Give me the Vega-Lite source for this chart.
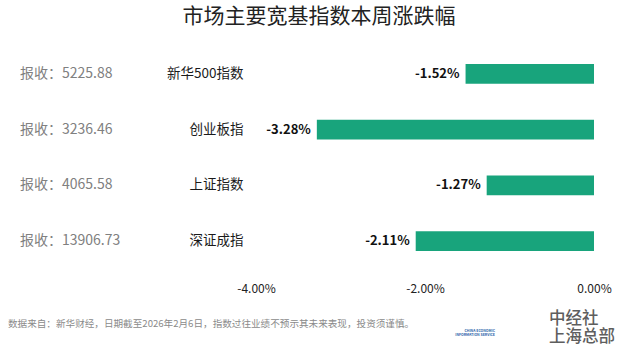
{
  "$schema": "https://vega.github.io/schema/vega-lite/v6.json",
  "padding": {"left": 8, "top": 6, "right": 8, "bottom": 5},
  "background": "white",
  "title": {
    "text": "市场主要宽基指数本周涨跌幅",
    "font": "Noto Sans CJK SC",
    "fontSize": 21,
    "fontWeight": "normal",
    "color": "#222222",
    "anchor": "middle",
    "offset": 19,
    "dx": 4
  },
  "config": {
    "view": {"stroke": null},
    "font": "Noto Sans CJK SC"
  },
  "datasets": {
    "idx": [
      {"name": "新华500指数", "change": -1.52, "close": 5225.88},
      {"name": "创业板指", "change": -3.28, "close": 3236.46},
      {"name": "上证指数", "change": -1.27, "close": 4065.58},
      {"name": "深证成指", "change": -2.11, "close": 13906.73}
    ],
    "note": [
      {"footer": "数据来自：新华财经，日期截至2026年2月6日，指数过往业绩不预示其未来表现，投资须谨慎。", "logo1": "中经社", "logo2": "上海总部", "logoEn1": "CHINA ECONOMIC", "logoEn2": "INFORMATION SERVICE"}
    ]
  },
  "spacing": 15,
  "vconcat": [
    {
      "bounds": "flush",
      "spacing": 224,
      "hconcat": [
        {
          "width": 24,
          "height": 223,
          "data": {"name": "idx"},
          "transform": [
            {"calculate": "'报收：' + format(datum.close, '.2f')", "as": "closeLabel"}
          ],
          "mark": {"type": "text", "align": "left", "baseline": "middle", "fontSize": 14, "color": "#808080"},
          "encoding": {
            "y": {
              "field": "name",
              "type": "nominal",
              "sort": null,
              "scale": {"paddingInner": 0.65, "paddingOuter": 0.325},
              "axis": null
            },
            "text": {"field": "closeLabel"}
          }
        },
        {
          "width": 338,
          "height": 223,
          "data": {"name": "idx"},
          "transform": [
            {"calculate": "(datum.change < 0 ? '-' : '') + format(abs(datum.change), '.2f') + '%'", "as": "changeLabel"}
          ],
          "encoding": {
            "y": {
              "field": "name",
              "type": "nominal",
              "sort": null,
              "scale": {"paddingInner": 0.65, "paddingOuter": 0.325},
              "axis": {
                "title": null,
                "domain": false,
                "ticks": false,
                "tickSize": 0,
                "labelPadding": 13,
                "labelFontSize": 13.5,
                "labelColor": "#1a1a1a",
                "labelFont": "Noto Sans CJK SC"
              }
            }
          },
          "layer": [
            {
              "mark": {"type": "bar", "color": "#18a47c"},
              "encoding": {
                "x": {
                  "field": "change",
                  "type": "quantitative",
                  "scale": {"domain": [-4, 0], "nice": false},
                  "axis": {
                    "title": null,
                    "values": [-4, -2, 0],
                    "labelExpr": "(datum.value < 0 ? '-' : '') + format(abs(datum.value), '.2f') + '%'",
                    "grid": false,
                    "domain": false,
                    "ticks": false,
                    "tickSize": 0,
                    "labelPadding": 14,
                    "labelFontSize": 12,
                    "labelColor": "#222222",
                    "labelFlush": false
                  }
                }
              }
            },
            {
              "mark": {"type": "rule", "color": "#d9d9d9", "strokeWidth": 1},
              "encoding": {
                "x": {"datum": 0, "type": "quantitative"}
              }
            },
            {
              "mark": {"type": "text", "align": "right", "baseline": "middle", "dx": -6, "fontSize": 13, "fontWeight": "bold", "color": "#111111"},
              "encoding": {
                "x": {"field": "change", "type": "quantitative"},
                "text": {"field": "changeLabel"}
              }
            }
          ]
        }
      ]
    },
    {
      "width": 614,
      "height": 30,
      "data": {"name": "note"},
      "encoding": {
        "x": {"datum": 0, "type": "quantitative", "scale": {"domain": [0, 1]}, "axis": null}
      },
      "layer": [
        {
          "mark": {"type": "text", "align": "left", "baseline": "middle", "fontSize": 9.6, "color": "#8a8a8a"},
          "encoding": {
            "text": {"field": "footer"}
          }
        },
        {
          "mark": {"type": "text", "align": "left", "baseline": "middle", "fontSize": 16.5, "fontWeight": 500, "color": "#5e5e5e", "dx": -73, "dy": -5},
          "encoding": {
            "x": {"datum": 1, "type": "quantitative"},
            "text": {"field": "logo1"}
          }
        },
        {
          "mark": {"type": "text", "align": "left", "baseline": "middle", "fontSize": 16.5, "fontWeight": 500, "color": "#5e5e5e", "dx": -73, "dy": 12.5},
          "encoding": {
            "x": {"datum": 1, "type": "quantitative"},
            "text": {"field": "logo2"}
          }
        },
        {
          "mark": {"type": "text", "align": "right", "baseline": "middle", "fontSize": 3.5, "fontWeight": "bold", "color": "#2a5fa8", "dx": -127, "dy": 7},
          "encoding": {
            "x": {"datum": 1, "type": "quantitative"},
            "text": {"field": "logoEn1"}
          }
        },
        {
          "mark": {"type": "text", "align": "right", "baseline": "middle", "fontSize": 3.5, "fontWeight": "bold", "color": "#2a5fa8", "dx": -127, "dy": 11},
          "encoding": {
            "x": {"datum": 1, "type": "quantitative"},
            "text": {"field": "logoEn2"}
          }
        }
      ]
    }
  ]
}
